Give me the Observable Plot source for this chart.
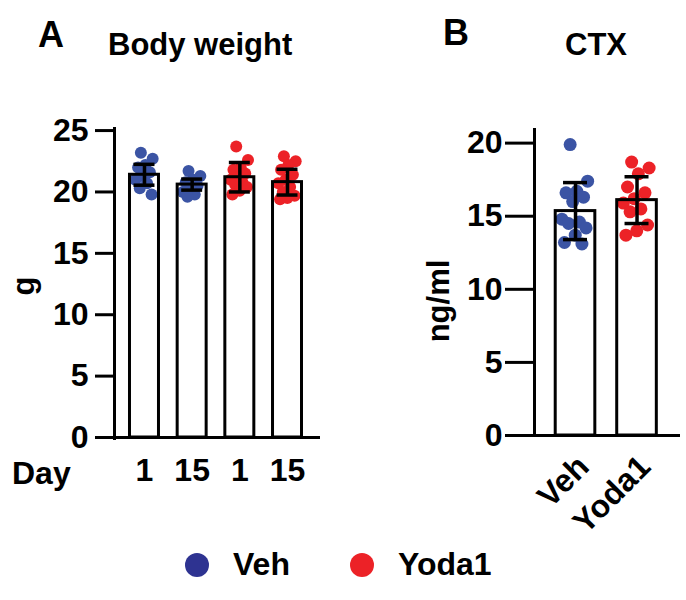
<!DOCTYPE html>
<html>
<head>
<meta charset="utf-8">
<script src="https://cdn.jsdelivr.net/npm/d3@7"></script>
<script src="https://cdn.jsdelivr.net/npm/@observablehq/plot@0.6"></script>
<style>
  html, body { margin: 0; padding: 0; background: #fff; }
  #root { position: relative; width: 686px; height: 600px; overflow: hidden;
    font-family: "Liberation Sans", Arial, Helvetica, sans-serif; font-weight: bold; color: #000; }
  .t { position: absolute; line-height: 1; white-space: nowrap; }
  .rot { position: absolute; line-height: 31px; height: 31px; font-size: 31px; white-space: nowrap;
    transform: translate(-50%, -50%) rotate(-90deg); }
  .plot { position: absolute; }
  .dot { position: absolute; width: 24px; height: 24px; border-radius: 50%; }
</style>
</head>
<body>
<div id="root"></div>
<script>
// ---------------- data ----------------
const groupLabelsA = ["1", "15", "1", "15"];
const groupTreatA = ["Veh", "Veh", "Yoda1", "Yoda1"];
const meanA = [21.4, 20.6, 21.2, 20.8];
const sdA = [0.85, 0.45, 1.2, 1.05];
const vehDay1 = [23.2, 22.7, 22.2, 22.0, 21.6, 21.3, 21.0, 20.7, 20.3, 19.8];
const vehDay15 = [21.7, 21.3, 21.0, 20.8, 20.5, 20.3, 20.0, 19.8, 19.6];
const yodaDay1 = [23.7, 22.6, 22.0, 21.8, 21.5, 21.2, 21.0, 20.8, 20.6, 20.4, 20.1, 19.8];
const yodaDay15 = [22.9, 22.5, 22.2, 21.8, 21.4, 21.0, 20.7, 20.4, 20.0, 19.7, 19.5, 19.4];

const groupLabelsB = ["Veh", "Yoda1"];
const meanB = [15.35, 16.1];
const sdB = [1.95, 1.6];
const ctxVeh = [19.9, 17.4, 16.7, 16.6, 16.3, 16.0, 14.8, 14.6, 14.5, 14.2, 13.7, 13.2, 13.1];
const ctxYoda = [18.7, 18.3, 17.9, 17.0, 16.6, 16.2, 15.9, 15.5, 15.3, 14.4, 14.0, 13.7];

const ticksA = [0, 5, 10, 15, 20, 25];
const ticksB = [0, 5, 10, 15, 20];

// ---------------- styles ----------------
const colors = { Veh: "#3b54a4", Yoda1: "#ec2227" };
const legendColors = { Veh: "#2e3391", Yoda1: "#ec2227" };
const FONT = '"Liberation Sans", Arial, Helvetica, sans-serif';
const jit = (i) => (((i * 0.618034 + 0.31) % 1) * 2 - 1);

const root = document.getElementById("root");
function txt(s, left, top, size) {
  const d = document.createElement("div");
  d.className = "t"; d.textContent = s;
  d.style.left = left + "px"; d.style.top = top + "px"; d.style.fontSize = size + "px";
  root.appendChild(d);
}
function rot(s, cx, cy) {
  const d = document.createElement("div");
  d.className = "rot"; d.textContent = s;
  d.style.left = cx + "px"; d.style.top = cy + "px";
  root.appendChild(d);
}

// ---------------- Panel A ----------------
const barsA = meanA.map((m, k) => ({ i: k + 1, mean: m, sd: sdA[k], treat: groupTreatA[k] }));
const seriesA = [vehDay1, vehDay15, yodaDay1, yodaDay15];
const ptsA = seriesA.flatMap((arr, k) => arr.map((v, j) => ({ i: k + 1, j, v, treat: groupTreatA[k] })));
const xDomA = [0.371, 4.692];
const hwA = 0.304, capA = 0.22, jwA = 0.2;

const plotA = Plot.plot({
  width: 330, height: 380,
  marginLeft: 114, marginRight: 10, marginTop: 27, marginBottom: 43,
  x: { domain: xDomA, axis: null },
  y: { domain: [0, 25.25], axis: null },
  style: { fontFamily: FONT, fontSize: "32px", fontWeight: "bold", color: "#000", background: "transparent", overflow: "visible" },
  marks: [
    Plot.rectY(barsA, { x1: d => d.i - hwA, x2: d => d.i + hwA, y: "mean", fill: "white" }),
    Plot.dot(ptsA, { x: d => d.i + jit(d.j) * jwA, y: "v", r: 6, fill: d => colors[d.treat], stroke: "none" }),
    Plot.rectY(barsA, { x1: d => d.i - hwA, x2: d => d.i + hwA, y: "mean", fill: "none", stroke: "#000", strokeWidth: 3 }),
    Plot.ruleX(barsA, { x: "i", y1: d => d.mean - d.sd, y2: d => d.mean + d.sd, stroke: "#000", strokeWidth: 3.5 }),
    Plot.ruleY(barsA, { y: d => d.mean + d.sd, x1: d => d.i - capA, x2: d => d.i + capA, stroke: "#000", strokeWidth: 3.5 }),
    Plot.ruleY(barsA, { y: d => d.mean - d.sd, x1: d => d.i - capA, x2: d => d.i + capA, stroke: "#000", strokeWidth: 3.5 }),
    Plot.ruleX([xDomA[0]], { y1: -0.25, y2: 25.25, stroke: "#000", strokeWidth: 3 }),
    Plot.ruleY([0], { stroke: "#000", strokeWidth: 3 }),
    Plot.axisY({ ticks: ticksA, tickSize: 19, tickPadding: 7, strokeWidth: 3, fontSize: 32, fontWeight: "bold", label: null }),
    Plot.axisX({ ticks: [1, 2, 3, 4], tickFormat: i => groupLabelsA[i - 1], tickSize: 0, tickPadding: 21, fontSize: 32, fontWeight: "bold", label: null })
  ]
});
plotA.classList.add("plot");
plotA.style.left = "0px"; plotA.style.top = "100px";
root.appendChild(plotA);

// ---------------- Panel B ----------------
const barsB = meanB.map((m, k) => ({ i: k + 1, mean: m, sd: sdB[k], treat: groupLabelsB[k] }));
const seriesB = [ctxVeh, ctxYoda];
const ptsB = seriesB.flatMap((arr, k) => arr.map((v, j) => ({ i: k + 1, j, v, treat: groupLabelsB[k] })));
const xDomB = [0.333, 2.707];
const hwB = 0.322, capB = 0.195, jwB = 0.23;

const plotB = Plot.plot({
  width: 286, height: 460,
  marginLeft: 134, marginRight: 6, marginTop: 28, marginBottom: 125,
  x: { domain: xDomB, axis: null },
  y: { domain: [0, 21], axis: null },
  style: { fontFamily: FONT, fontSize: "32px", fontWeight: "bold", color: "#000", background: "transparent", overflow: "visible" },
  marks: [
    Plot.rectY(barsB, { x1: d => d.i - hwB, x2: d => d.i + hwB, y: "mean", fill: "white" }),
    Plot.dot(ptsB, { x: d => d.i + jit(d.j) * jwB, y: "v", r: 6.5, fill: d => colors[d.treat], stroke: "none" }),
    Plot.rectY(barsB, { x1: d => d.i - hwB, x2: d => d.i + hwB, y: "mean", fill: "none", stroke: "#000", strokeWidth: 3 }),
    Plot.ruleX(barsB, { x: "i", y1: d => d.mean - d.sd, y2: d => d.mean + d.sd, stroke: "#000", strokeWidth: 3.5 }),
    Plot.ruleY(barsB, { y: d => d.mean + d.sd, x1: d => d.i - capB, x2: d => d.i + capB, stroke: "#000", strokeWidth: 3.5 }),
    Plot.ruleY(barsB, { y: d => d.mean - d.sd, x1: d => d.i - capB, x2: d => d.i + capB, stroke: "#000", strokeWidth: 3.5 }),
    Plot.ruleX([xDomB[0]], { y1: -0.1, y2: 21, stroke: "#000", strokeWidth: 3 }),
    Plot.ruleY([0], { stroke: "#000", strokeWidth: 3 }),
    Plot.axisY({ ticks: ticksB, tickSize: 29, tickPadding: 3, strokeWidth: 3, fontSize: 32, fontWeight: "bold", label: null }),
    Plot.axisX({ ticks: [1, 2], tickFormat: i => groupLabelsB[i - 1], tickRotate: -45, tickSize: 0, tickPadding: 26, dx: 8, fontSize: 32, fontWeight: "bold", label: null })
  ]
});
plotB.classList.add("plot");
plotB.style.left = "400px"; plotB.style.top = "100px";
root.appendChild(plotB);

// ---------------- Text ----------------
txt("A", 38, 17, 36);
txt("Body weight", 108, 29, 31);
txt("B", 443, 15, 36);
txt("CTX", 565, 29, 31);
txt("Day", 12, 457, 32);
rot("g", 23, 286);
rot("ng/ml", 438, 301);

// ---------------- Legend ----------------
const legend = [
  { name: "Veh", cx: 197, tx: 233 },
  { name: "Yoda1", cx: 362, tx: 398 }
];
legend.forEach(l => {
  const c = document.createElement("div");
  c.className = "dot";
  c.style.left = (l.cx - 12) + "px"; c.style.top = (565 - 12) + "px";
  c.style.background = legendColors[l.name];
  root.appendChild(c);
  txt(l.name, l.tx, 548, 32);
});
</script>
</body>
</html>
